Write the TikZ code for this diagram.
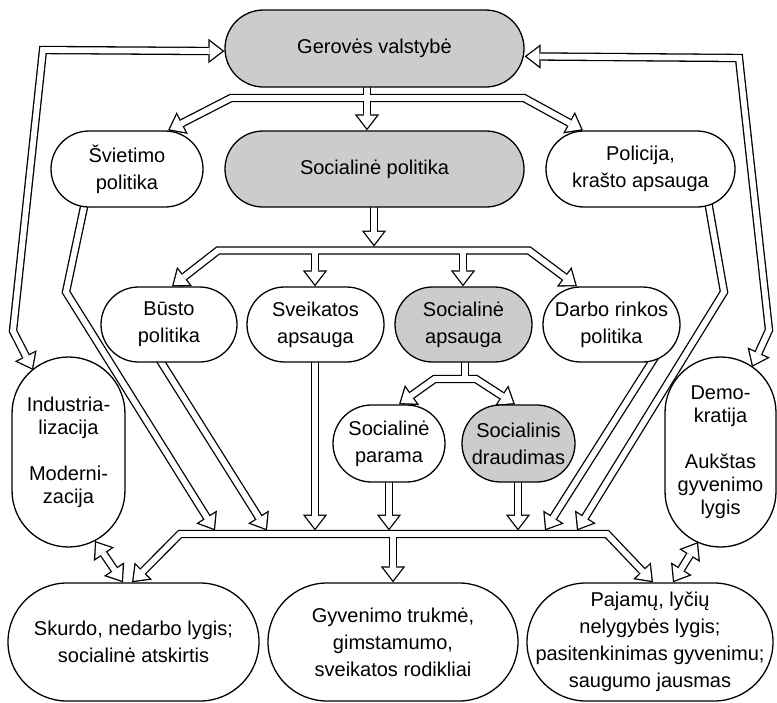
\documentclass[tikz,border=0pt]{standalone}
\usepackage{fontspec}
\setmainfont{Liberation Sans}
\usetikzlibrary{arrows.meta,backgrounds}

\tikzset{
  box/.style={draw,line width=0.65pt,inner sep=0pt,align=center,fill=white,font=\fontsize{10}{13.5}\selectfont},
  tall/.style={font=\fontsize{10}{11.5}\selectfont},
  grey/.style={fill=gray!40},
  pill/.style n args={3}{minimum width=#1pt,minimum height=#2pt,rounded corners=#3pt},
  outer/.style={draw=black,line width=4.2pt,line join=miter,>={Triangle[length=8pt,width=12.25pt,line width=0pt]}},
  inner/.style={draw=white,line width=2.9pt,line join=miter,shorten >=1.07pt,shorten <=1.07pt,>={Triangle[length=6.28pt,width=9.62pt,line width=0pt]}}
}

\newcommand\flows[1]{%
\draw[#1,<->] (gerove.181) -- (43,50) -- (13,331) -- (33,370);
\draw[#1,<->] (gerove.-3.5) -- (739,58) -- (769,330) -- (752,367);
\draw[#1,<->] (168,0 |- svietimo.north) -- (231,98) -- (524,98) -- (583,0 |- policija.north);
\draw[#1,->] (367,0 |- gerove.center) -- (367,0 |- socpol.north);
\draw[#1,->] (374,0 |- socpol.center) -- (374,246.5);
\draw[#1,<->] (172,0 |- busto.north) -- (218,250.5) -- (529,250.5) -- (577,0 |- darbo.north);
\draw[#1,->] (315,250.5) -- (315,0 |- sveik.north);
\draw[#1,->] (463,250.5) -- (463,0 |- socaps.north);
\draw[#1] (465,0 |- socaps.center) -- (465,379);
\draw[#1,<->] (399,0 |- parama.north) -- (434.5,379) -- (476,379) -- (515,0 |- draud.north);
\draw[#1,->] (85.5,200) -- (66,292) -- (215,530.5);
\draw[#1,->] (157.3,356) -- (267,530.5);
\draw[#1,->] (315,0 |- sveik.center) -- (315,530.5);
\draw[#1,->] (389,0 |- parama.center) -- (389,530.5);
\draw[#1,->] (518,0 |- draud.center) -- (518,530.5);
\draw[#1,->] (655.7,356) -- (545,530.5);
\draw[#1,->] (707.8,200) -- (724,292) -- (577,530.5);
\draw[#1,<->] (132,0 |- skurdo.north) -- (180,534) -- (607,534) -- (653,0 |- pajamu.north);
\draw[#1,->] (393,534) -- (393,0 |- gyven.north);
\draw[#1,<->] (95,541) -- (123,0 |- skurdo.north);
\draw[#1,<->] (698,542) -- (673,0 |- pajamu.north);
}

\begin{document}
\begin{tikzpicture}[x=0.5pt,y=-0.5pt]
\useasboundingbox (0,0) rectangle (777,702);
\draw (374.5,48.5) node[box,grey,pill={149.5}{38.5}{19.25}] (gerove) {Gerovės valstybė};
\draw (127,169) node[box,pill={76}{38}{19}] (svietimo) {Švietimo\\politika};
\draw (374.5,169) node[box,grey,pill={149.5}{38}{19}] (socpol) {Socialinė politika};
\draw (640.5,169) node[box,pill={94.5}{38}{19}] (policija) {Policija,\\krašto apsauga};
\draw (169,324.5) node[box,pill={68}{37.5}{18.75}] (busto) {Būsto\\politika};
\draw (315.5,324.5) node[box,pill={68.5}{37.5}{18.75}] (sveik) {Sveikatos\\apsauga};
\draw (463.5,324.5) node[box,grey,pill={68.5}{37.5}{18.75}] (socaps) {Socialinė\\apsauga};
\draw (611.5,324.5) node[box,pill={68.5}{37.5}{18.75}] (darbo) {Darbo rinkos\\politika};
\draw (389,443.5) node[box,pill={56}{38.5}{19.25}] (parama) {Socialinė\\parama};
\draw (518.5,443.5) node[box,grey,pill={56.5}{38.5}{19.25}] (draud) {Socialinis\\draudimas};
\draw (68.5,452) node[box,tall,pill={56.5}{95}{28.25}] (ind) {Industria-\\lizacija\\[11.5pt]Moderni-\\zacija};
\draw (720.5,452) node[box,tall,pill={55.5}{95}{27.75}] (dem) {Demo-\\kratija\\[11.5pt]Aukštas\\gyvenimo\\lygis};
\draw (133.5,642) node[box,pill={125.5}{59}{29.5}] (skurdo) {Skurdo, nedarbo lygis;\\socialinė atskirtis};
\draw (393,642) node[box,pill={125}{59}{29.5}] (gyven) {Gyvenimo trukmė,\\gimstamumo,\\sveikatos rodikliai};
\draw (650,642) node[box,pill={123}{59}{29.5}] (pajamu) {Pajamų, lyčių\\nelygybės lygis;\\pasitenkinimas gyvenimu;\\saugumo jausmas};
\begin{scope}[on background layer]
\flows{outer}
\flows{inner}
\end{scope}
\end{tikzpicture}
\end{document}
